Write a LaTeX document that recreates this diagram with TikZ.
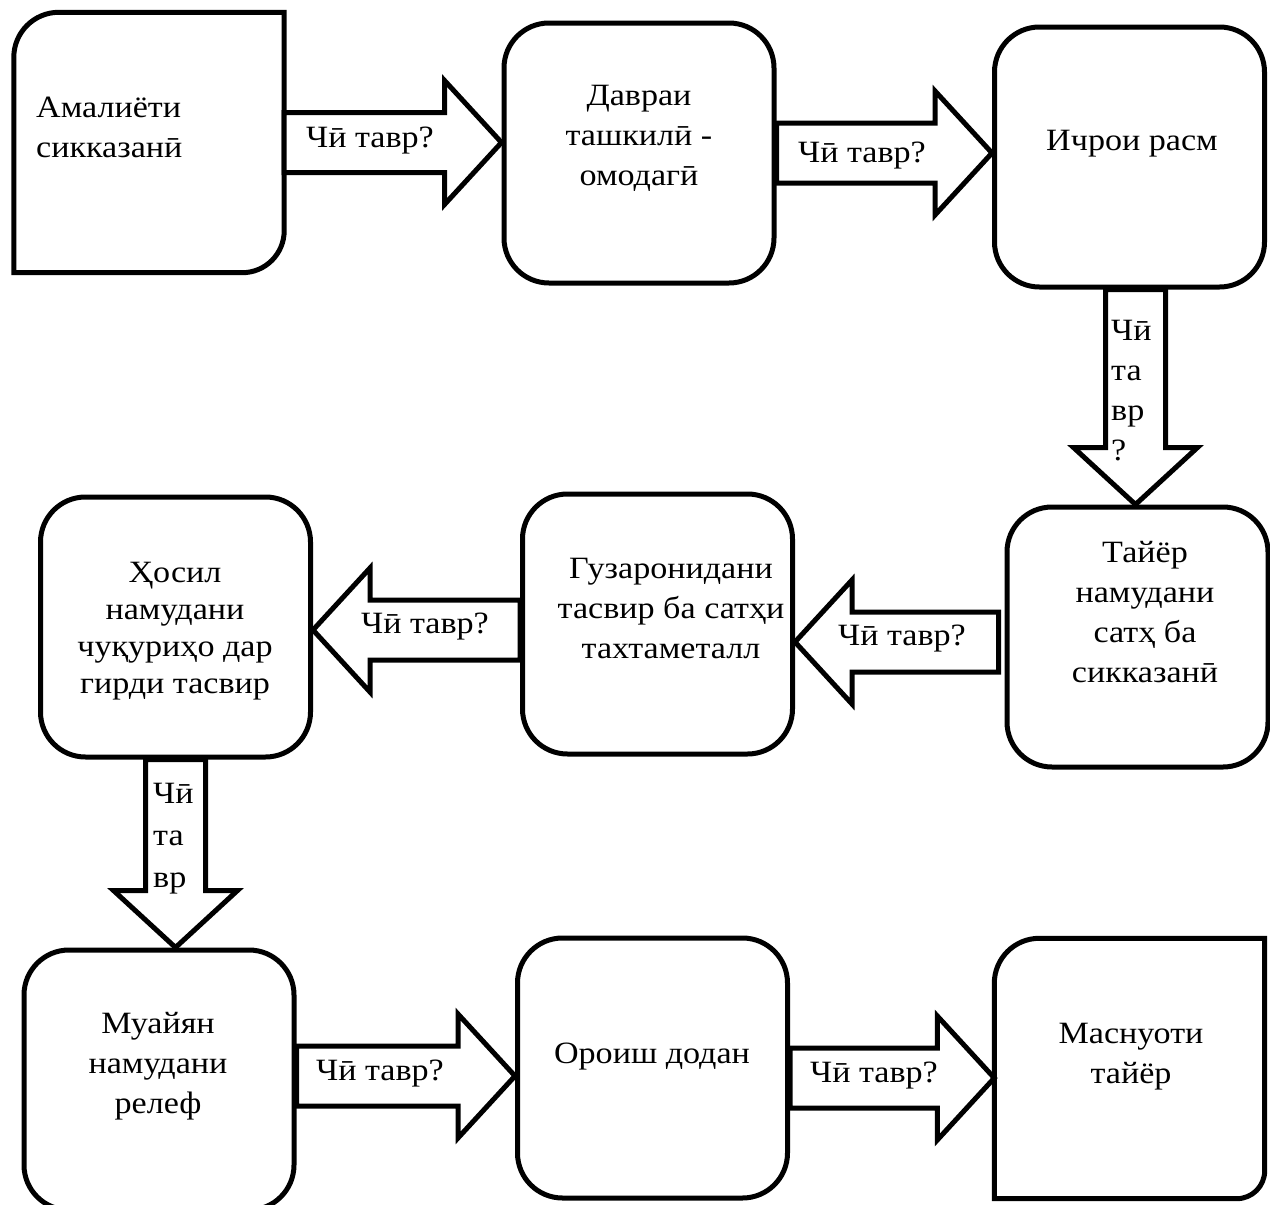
\documentclass[tikz,border=0pt]{standalone}
\usepackage{fontspec}
\setmainfont{Liberation Serif}[FakeStretch=1.1]
\usetikzlibrary{calc, positioning}

\tikzset{
  boxline/.style={draw=black, line width=5pt},
  stepbox/.style={boxline, rounded corners=45pt, minimum width=270pt, minimum height=260pt, inner sep=0pt},
  halfbox/.style={minimum width=270pt, minimum height=260pt, inner sep=0pt},
  boxtext/.style={font=\fontsize{31}{40}\selectfont, align=center, anchor=base, inner sep=0pt},
  asklabel/.style={font=\fontsize{31}{40}\selectfont, anchor=base, inner sep=0pt},
  asklabelv/.style={font=\fontsize{31}{40}\selectfont, align=left, anchor=base west, inner sep=0pt},
  blockarrow/.style={fill=white, draw=black, line width=5pt,
    to path={
      ($(\tikztotarget)!57pt!(\tikztostart)$) coordinate (hb)
      ($(\tikztostart)!30pt!90:(\tikztotarget)$)
      -- ($(hb)!30pt!90:(\tikztotarget)$)
      -- ($(hb)!62pt!90:(\tikztotarget)$)
      -- (\tikztotarget)
      -- ($(hb)!62pt!-90:(\tikztotarget)$)
      -- ($(hb)!30pt!-90:(\tikztotarget)$)
      -- ($(\tikztostart)!30pt!-90:(\tikztotarget)$)
      -- cycle}}
}

\begin{document}
\begin{tikzpicture}[x=1pt, y=-1pt]
  \clip (0,0) rectangle (1270,1205);
  \fill[white] (0,0) rectangle (1270,1205);

  % Row 1
  \node[halfbox] (b1) at (149,142.5) {};
  \draw[boxline] (b1.south west) -- ([yshift=-45pt]b1.north west) arc[start angle=180, end angle=90, radius=45pt]
    -- (b1.north east) -- ([yshift=42pt]b1.south east) arc[start angle=0, end angle=-90, radius=42pt] -- cycle;
  \node[stepbox] (b2) at (639,153) {};
  \node[stepbox] (b3) at (1129.5,157) {};

  % Row 2
  \node[stepbox, minimum width=261pt] (b4) at (1137.5,637) {};
  \node[stepbox] (b5) at (657.5,624) {};
  \node[stepbox] (b6) at (175.5,627) {};

  % Row 3
  \node[stepbox] (b7) at (159,1080) {};
  \node[stepbox] (b8) at (652.5,1068) {};
  \node[halfbox] (b9) at (1129.5,1068.5) {};
  \draw[boxline] (b9.south west) -- ([yshift=-45pt]b9.north west) arc[start angle=180, end angle=90, radius=45pt]
    -- (b9.north east) -- ([yshift=28pt]b9.south east) arc[start angle=0, end angle=-90, radius=28pt] -- cycle;

  % Box texts
  \node[boxtext, align=left, anchor=base west] (b1t) at (36,157) {Амалиёти\\сикказанӣ};
  \node[boxtext] (b2t) at (639,185) {Давраи\\ташкилӣ -\\омодагӣ};
  \node[boxtext] (b3t) at (1132,150) {Ичрои расм};
  \node[boxtext] (b4t) at (1145,682) {Тайёр\\намудани\\сатҳ ба\\сикказанӣ};
  \node[boxtext] (b5t) at (671,658) {Гузаронидани\\тасвир ба сатҳи\\тахтаметалл};
  \node[boxtext, font=\fontsize{31}{37}\selectfont] (b6t) at (175,693) {Ҳосил\\намудани\\чуқуриҳо дар\\гирди тасвир};
  \node[boxtext] (b7t) at (158,1113) {Муайян\\намудани\\релеф};
  \node[boxtext] (b8t) at (652,1063) {Ороиш додан};
  \node[boxtext] (b9t) at (1131,1083) {Маснуоти\\тайёр};

  % Arrow ends
  \coordinate (a1s) at (b1.east);
  \coordinate (a1e) at (b2.west |- a1s);
  \coordinate (a2s) at (b2.east);
  \coordinate (a2e) at (b3.west |- a2s);
  \coordinate (a3s) at ($(b3.south)+(6,0)$);
  \coordinate (a3e) at (a3s |- b4.north);
  \coordinate (a4s) at ($(b4.west)+(-6,5)$);
  \coordinate (a4e) at (b5.east |- a4s);
  \coordinate (a5s) at ($(b5.west)+(0,6)$);
  \coordinate (a5e) at (b6.east |- a5s);
  \coordinate (a6s) at (b6.south);
  \coordinate (a6e) at (a6s |- b7.north);
  \coordinate (a7s) at ($(b7.east)+(0,-4)$);
  \coordinate (a7e) at (b8.west |- a7s);
  \coordinate (a8s) at ($(b8.east)+(0,10)$);
  \coordinate (a8e) at (b9.west |- a8s);

  % Block arrows
  \draw[blockarrow] (a1s) to (a1e);
  \draw[blockarrow] (a2s) to (a2e);
  \draw[blockarrow] (a3s) to (a3e);
  \draw[blockarrow] (a4s) to (a4e);
  \draw[blockarrow] (a5s) to (a5e);
  \draw[blockarrow] (a6s) to (a6e);
  \draw[blockarrow] (a7s) to (a7e);
  \draw[blockarrow] (a8s) to (a8e);

  % Arrow labels
  \node[asklabel] (l1) at (370,147) {Чӣ тавр?};
  \node[asklabel] (l2) at (862,162) {Чӣ тавр?};
  \node[asklabelv] (l3) at (1111,460) {Чӣ\\та\\вр\\?};
  \node[asklabel] (l4) at (902,645) {Чӣ тавр?};
  \node[asklabel] (l5) at (425,633) {Чӣ тавр?};
  \node[asklabelv, font=\fontsize{31}{42}\selectfont] (l6) at (153,887) {Чӣ\\та\\вр};
  \node[asklabel] (l7) at (380,1080) {Чӣ тавр?};
  \node[asklabel] (l8) at (874,1082) {Чӣ тавр?};
\end{tikzpicture}
\end{document}
